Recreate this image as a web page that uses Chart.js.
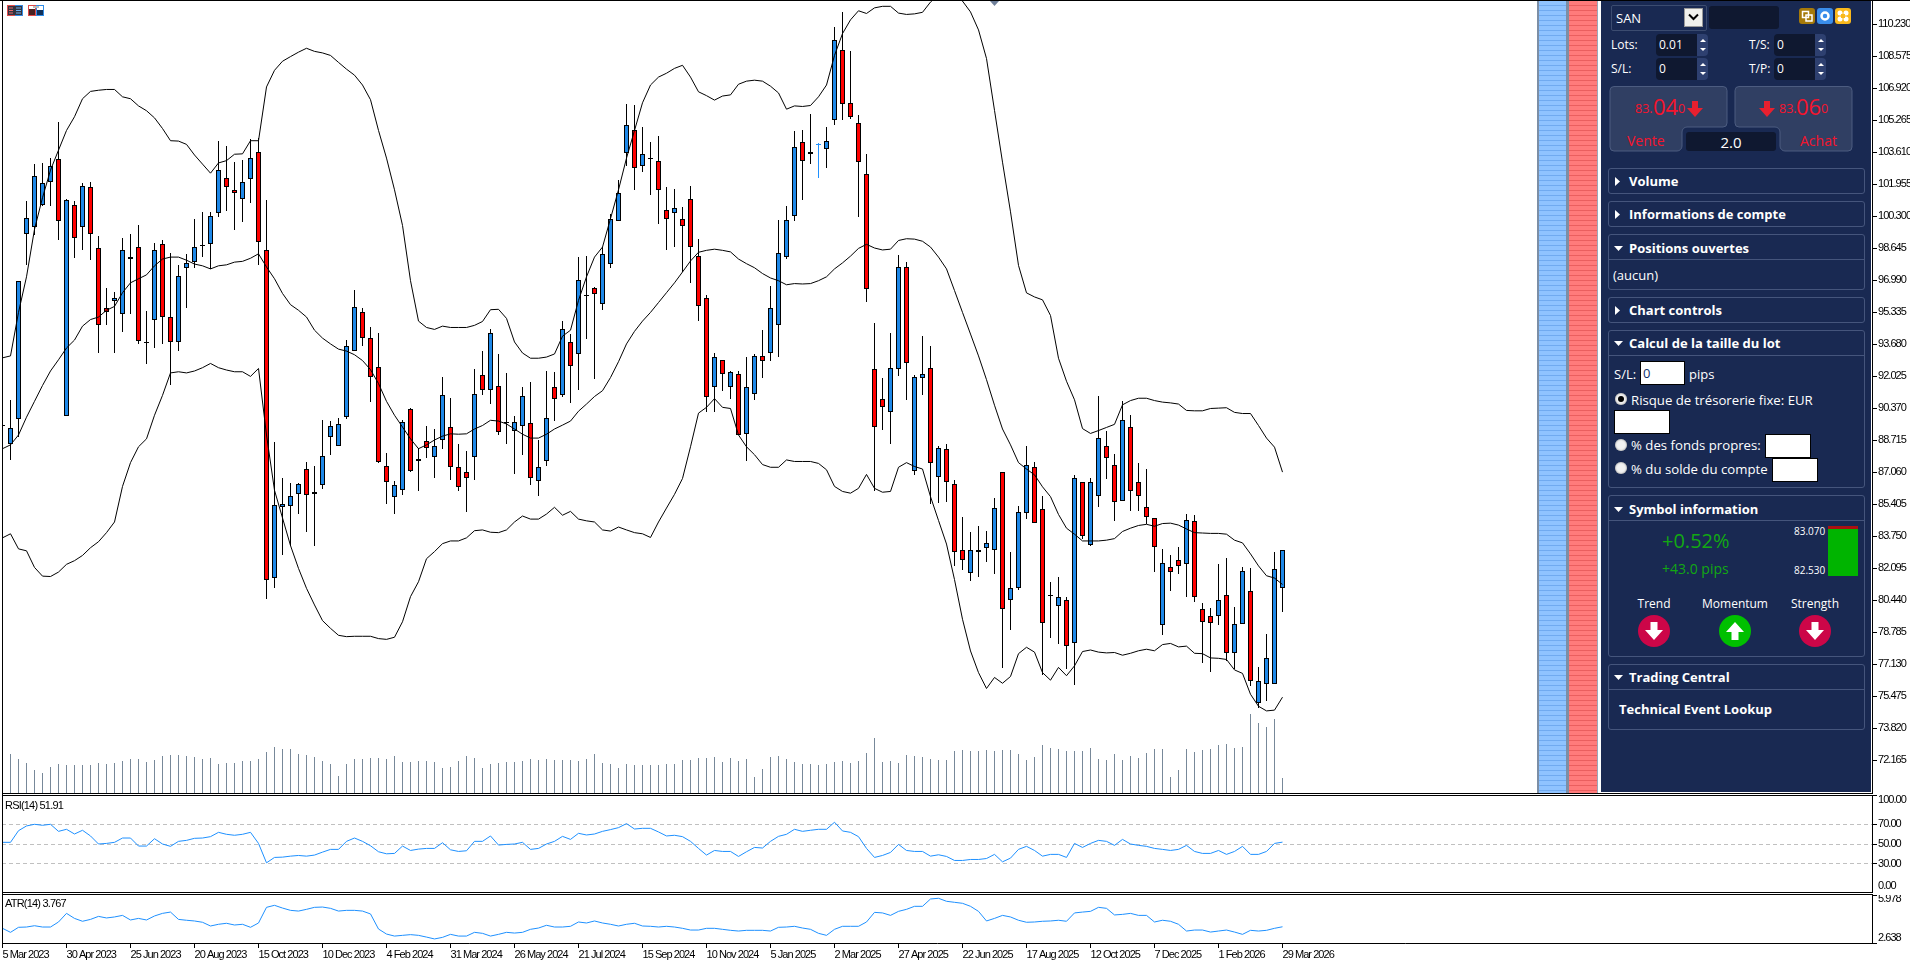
<!DOCTYPE html>
<html lang="fr">
<head>
<meta charset="UTF-8">
<title>SAN Weekly</title>
<script src="https://cdn.jsdelivr.net/npm/chart.js"></script>
<style>
html,body{margin:0;padding:0;background:#fff;overflow:hidden;width:1910px;height:960px}
canvas{position:absolute;left:0;display:block}
.ln{position:absolute;background:#000}
.strip{position:absolute;top:1px;height:792px}
#panel{position:absolute;left:1601px;top:1px;width:270px;height:791px;background:#192952}
.a{position:absolute;font-family:"Open Sans",sans-serif;color:#fff}
.t{position:absolute;font-family:"Open Sans",sans-serif;color:#fff;white-space:nowrap;line-height:1;transform:translateY(-50%);font-size:13px}
.h{font-weight:700;font-size:13px}
.sec{position:absolute;left:1608px;width:255px;border:1px solid #45557c;border-radius:3px;box-sizing:content-box}
.sep{position:absolute;left:1609px;width:255px;height:1px;background:#45557c}
.rt,.dn{position:absolute;background:#fff}
.rt{width:5px;height:9px;left:1615px;clip-path:polygon(0 0,100% 50%,0 100%)}
.dn{width:9px;height:5px;left:1614px;clip-path:polygon(0 0,100% 0,50% 100%)}
.inp{position:absolute;background:#0f1830;border-radius:4px 0 0 4px;height:22px;width:41px}
.spin{position:absolute;width:11px;height:22px;background:#2e4070;border-radius:0 4px 4px 0}
.spin:before,.spin:after{content:"";position:absolute;left:3px;width:6px;height:3px;background:#fff}
.spin:before{top:5px;clip-path:polygon(50% 0,100% 100%,0 100%)}
.spin:after{bottom:5px;clip-path:polygon(0 0,100% 0,50% 100%)}
.box{position:absolute;background:#fff;border:1px solid #000;box-sizing:border-box}
.radio{position:absolute;width:12px;height:12px;border-radius:50%;background:#f2f2f2;box-shadow:inset 0 0 2px #777}
.red{color:#f5142d}
.cap{position:absolute;left:5px;font:11px 'Liberation Sans',sans-serif;letter-spacing:-.8px;color:#000}
</style>
</head>
<body>
<canvas id="mainChart" width="1910" height="793" style="top:0"></canvas>
<canvas id="rsiChart" width="1910" height="98" style="top:795px"></canvas>
<canvas id="atrChart" width="1910" height="65" style="top:895px"></canvas>

<!-- window frame -->
<div class="ln" style="left:0;top:0;width:1910px;height:1px"></div>
<div class="ln" style="left:2px;top:0;width:1px;height:944px"></div>
<div class="ln" style="left:2px;top:793px;width:1871px;height:1px"></div>
<div class="ln" style="left:2px;top:795px;width:1871px;height:1px"></div>
<div class="ln" style="left:2px;top:892px;width:1871px;height:1px"></div>
<div class="ln" style="left:2px;top:894px;width:1871px;height:1px"></div>

<!-- chart toolbar icons -->
<svg style="position:absolute;left:7px;top:5px" width="16" height="11"><rect x=".5" y=".5" width="15" height="10" fill="#33333f" stroke="#e04a4a"/><path d="M8 .5h7.500v10H8" fill="none" stroke="#2f8de8"/><path d="M2 3h4M2 5.500h4M2 8h4" stroke="#e86a6a"/><path d="M9 3h5M9 5.500h5M9 8h5" stroke="#6fb0f0"/></svg>
<svg style="position:absolute;left:28px;top:5px" width="16" height="11"><rect x=".5" y=".5" width="7" height="10" fill="#fff" stroke="#e04a4a"/><rect x="8.500" y=".5" width="7" height="10" fill="#fff" stroke="#2f8de8"/><rect x="1" y="4" width="6" height="6" fill="#4a2020"/><rect x="9" y="5" width="6" height="5" fill="#10305a"/><rect x="5" y="1" width="6" height="2" fill="#bbb"/></svg>
<div style="position:absolute;left:990px;top:1px;width:9px;height:5px;background:#6f7f99;clip-path:polygon(0 0,100% 0,50% 100%)"></div>

<!-- striped side bars -->
<div class="strip" style="left:1537px;width:2px;background:#7c8ea5"></div>
<div class="strip" style="left:1539px;width:27px;background:repeating-linear-gradient(#8fc3ff 0 4px,#70aaf0 4px 5px)"></div>
<div class="strip" style="left:1566px;width:3px;background:#7c8ea5"></div>
<div class="strip" style="left:1569px;width:28px;background:repeating-linear-gradient(#ff7b7b 0 4px,#ea5f5f 4px 5px)"></div>
<div class="strip" style="left:1597px;width:1px;background:#9aa8bb"></div>

<!-- trade panel -->
<div id="panel"></div>
<div class="a" style="left:1611px;top:5px;width:94px;height:24px;border:1px solid #3c4c70;border-radius:2px"></div>
<div class="t" style="left:1616px;top:18px;font-size:13px">SAN</div>
<div class="a" style="left:1684px;top:8px;width:19px;height:19px;background:#f0f0ec;border:1px solid #999;box-sizing:border-box"></div>
<svg style="position:absolute;left:1688px;top:13px" width="11" height="8"><path d="M1 1.500l4.500 4.500 4.500-4.500" fill="none" stroke="#000" stroke-width="2"/></svg>
<div class="a" style="left:1709px;top:6px;width:70px;height:23px;background:#0f1830;border-radius:3px"></div>
<svg style="position:absolute;left:1799px;top:8px" width="52" height="16">
  <rect width="16" height="16" rx="3" fill="#a67a0a"/><rect x="18" width="16" height="16" rx="3" fill="#3a8dea"/><rect x="36" width="16" height="16" rx="3" fill="#fab91c"/>
  <rect x="3.500" y="3.500" width="6" height="6" fill="none" stroke="#fff" stroke-width="1.500"/><rect x="7" y="7" width="6" height="6" fill="none" stroke="#fff" stroke-width="1.500"/>
  <circle cx="26" cy="8" r="3.500" fill="none" stroke="#fff" stroke-width="2.500"/>
  <circle cx="41" cy="5" r="2.500" fill="#fff"/><circle cx="47" cy="5" r="2.500" fill="#fff"/><circle cx="41" cy="11" r="2.500" fill="#fff"/><circle cx="47" cy="11" r="2.500" fill="#fff"/><rect x="42" y="6" width="4" height="4" fill="#fab91c"/>
</svg>

<div class="t" style="left:1611px;top:45px;font-size:12px">Lots:</div>
<div class="inp" style="left:1656px;top:34px"></div><div class="spin" style="left:1697px;top:34px"></div>
<div class="t" style="left:1659px;top:45px;font-size:12px">0.01</div>
<div class="t" style="left:1611px;top:69px;font-size:12px">S/L:</div>
<div class="inp" style="left:1656px;top:58px"></div><div class="spin" style="left:1697px;top:58px"></div>
<div class="t" style="left:1659px;top:69px;font-size:12px">0</div>
<div class="t" style="left:1749px;top:45px;font-size:12px">T/S:</div>
<div class="inp" style="left:1774px;top:34px"></div><div class="spin" style="left:1815px;top:34px"></div>
<div class="t" style="left:1777px;top:45px;font-size:12px">0</div>
<div class="t" style="left:1749px;top:69px;font-size:12px">T/P:</div>
<div class="inp" style="left:1774px;top:58px"></div><div class="spin" style="left:1815px;top:58px"></div>
<div class="t" style="left:1777px;top:69px;font-size:12px">0</div>

<!-- sell and buy buttons -->
<svg style="position:absolute;left:1609px;top:86px" width="244" height="66">
  <path d="M5 .5H114a4 4 0 0 1 4 4V37a4 4 0 0 1-4 4H78a5 5 0 0 0-5 5V60a5 5 0 0 1-5 5H5a4 4 0 0 1-4-4V4.500a4 4 0 0 1 4-4z" fill="#303f63" stroke="#4c5c80"/>
  <path d="M130 .5H239a4 4 0 0 1 4 4V61a4 4 0 0 1-4 4H176a5 5 0 0 1-5-5V46a5 5 0 0 0-5-5H130a4 4 0 0 1-4-4V4.500a4 4 0 0 1 4-4z" fill="#303f63" stroke="#4c5c80"/>
</svg>
<div class="a" style="left:1686px;top:132px;width:90px;height:19px;background:#0f1830;border-radius:3px"></div>
<div class="t" style="left:1686px;width:90px;text-align:center;top:142px;font-size:15px">2.0</div>
<div class="t red" style="left:1635px;top:109px;font-size:12.500px">83.</div>
<div class="t red" style="left:1653px;top:105.500px;font-size:22px">04</div>
<div class="t red" style="left:1678px;top:109px;font-size:12.500px">0</div>
<div class="t red" style="left:1779px;top:109px;font-size:12.500px">83.</div>
<div class="t red" style="left:1796px;top:105.500px;font-size:22px">06</div>
<div class="t red" style="left:1821px;top:109px;font-size:12.500px">0</div>
<svg style="position:absolute;left:1687px;top:101px" width="16" height="16"><path d="M5 0h6v7h5l-8 9-8-9h5z" fill="#e8202f"/></svg>
<svg style="position:absolute;left:1759px;top:101px" width="16" height="16"><path d="M5 0h6v7h5l-8 9-8-9h5z" fill="#e8202f"/></svg>
<div class="t red" style="left:1627px;top:141px;font-size:14px">Vente</div>
<div class="t red" style="left:1800px;top:141px;font-size:14px">Achat</div>

<!-- collapsible sections -->
<div class="sec" style="top:168px;height:24px"></div><div class="rt" style="top:177px"></div>
<div class="t h" style="left:1629px;top:181px">Volume</div>
<div class="sec" style="top:201px;height:24px"></div><div class="rt" style="top:210px"></div>
<div class="t h" style="left:1629px;top:214px">Informations de compte</div>
<div class="sec" style="top:234px;height:54px"></div><div class="sep" style="top:259px"></div><div class="dn" style="top:246px"></div>
<div class="t h" style="left:1629px;top:248px">Positions ouvertes</div>
<div class="t" style="left:1613px;top:275px">(aucun)</div>
<div class="sec" style="top:297px;height:24px"></div><div class="rt" style="top:306px"></div>
<div class="t h" style="left:1629px;top:310px">Chart controls</div>

<div class="sec" style="top:330px;height:156px"></div><div class="sep" style="top:355px"></div><div class="dn" style="top:341px"></div>
<div class="t h" style="left:1629px;top:343px">Calcul de la taille du lot</div>
<div class="t" style="left:1614px;top:374px">S/L:</div>
<div class="box" style="left:1640px;top:361px;width:45px;height:24px"></div>
<div class="t" style="left:1643px;top:373px;color:#10306a">0</div>
<div class="t" style="left:1689px;top:374px">pips</div>
<div class="radio" style="left:1615px;top:393px"></div>
<div class="a" style="left:1618px;top:396px;width:6px;height:6px;border-radius:50%;background:#000"></div>
<div class="t" style="left:1631px;top:401px;font-size:13.200px">Risque de trésorerie fixe: EUR</div>
<div class="box" style="left:1614px;top:410px;width:56px;height:24px"></div>
<div class="radio" style="left:1615px;top:439px"></div>
<div class="t" style="left:1631px;top:446px;font-size:13.200px">% des fonds propres:</div>
<div class="box" style="left:1765px;top:434px;width:46px;height:24px"></div>
<div class="radio" style="left:1615px;top:462px"></div>
<div class="t" style="left:1631px;top:470px;font-size:13.200px">% du solde du compte</div>
<div class="box" style="left:1772px;top:458px;width:46px;height:24px"></div>

<div class="sec" style="top:495px;height:160px"></div><div class="sep" style="top:520px"></div><div class="dn" style="top:507px"></div>
<div class="t h" style="left:1629px;top:509px">Symbol information</div>
<div class="t" style="left:1662px;top:541px;font-size:20px;color:#12a812">+0.52%</div>
<div class="t" style="left:1662px;top:569px;font-size:14px;color:#12a812">+43.0 pips</div>
<div class="t" style="left:1794px;top:531px;font-size:10px">83.070</div>
<div class="t" style="left:1794px;top:570px;font-size:10px">82.530</div>
<div class="a" style="left:1828px;top:526px;width:30px;height:3px;background:#aa1111"></div>
<div class="a" style="left:1828px;top:529px;width:30px;height:47px;background:#00b400"></div>
<div class="t" style="left:1634px;width:40px;text-align:center;top:604px;font-size:12px">Trend</div>
<div class="t" style="left:1695px;width:80px;text-align:center;top:604px;font-size:12px">Momentum</div>
<div class="t" style="left:1785px;width:60px;text-align:center;top:604px;font-size:12px">Strength</div>
<svg style="position:absolute;left:1638px;top:615px" width="32" height="32"><circle cx="16" cy="16" r="16" fill="#cc0648"/><path d="M12.500 7h7v8h5.500l-9 10-9-10h5.500z" fill="#fff"/></svg>
<svg style="position:absolute;left:1719px;top:615px" width="32" height="32"><circle cx="16" cy="16" r="16" fill="#00c000"/><path d="M12.500 25h7v-8h5.500l-9-10-9 10h5.500z" fill="#fff"/></svg>
<svg style="position:absolute;left:1799px;top:615px" width="32" height="32"><circle cx="16" cy="16" r="16" fill="#cc0648"/><path d="M12.500 7h7v8h5.500l-9 10-9-10h5.500z" fill="#fff"/></svg>

<div class="sec" style="top:664px;height:64px"></div><div class="sep" style="top:689px"></div><div class="dn" style="top:675px"></div>
<div class="t h" style="left:1629px;top:677px">Trading Central</div>
<div class="t h" style="left:1619px;top:709px">Technical Event Lookup</div>

<!-- indicator captions -->
<div class="cap" style="top:799px">RSI(14) 51.91</div>
<div class="cap" style="top:897px">ATR(14) 3.767</div>

<script>
// weekly bars, 5 Mar 2023 to 29 Mar 2026
const opens = [
  89.48,88.55,89.82,99.37,99.74,100.92,102.11,103.26,89.96,100.88,
  99.78,101.80,98.65,95.55,95.95,95.28,98.20,98.70,93.80,94.97,
  98.90,95.08,93.79,97.65,97.96,98.81,98.90,100.50,102.31,101.68,
  101.23,102.25,103.66,98.59,81.58,85.26,85.34,85.97,87.26,85.93,
  86.39,88.88,88.41,89.94,93.34,95.34,94.03,92.50,87.41,85.79,
  86.14,90.33,87.75,88.67,87.84,88.73,89.39,87.33,87.06,87.84,
  92.09,91.35,91.52,89.62,89.19,89.49,89.60,86.61,87.67,91.46,
  91.05,93.79,93.21,96.23,96.59,95.79,97.86,100.09,103.56,104.75,
  102.89,103.27,103.15,100.62,100.50,100.15,101.23,98.25,96.06,91.46,
  92.87,91.46,92.13,89.06,91.11,93.07,93.25,94.67,98.18,100.35,
  104.13,103.52,104.01,103.77,105.28,108.90,106.16,105.12,102.52,92.40,
  90.84,90.21,92.40,97.71,87.16,91.97,92.44,86.81,88.25,86.49,
  83.03,81.88,82.93,83.13,83.03,87.06,80.48,81.11,84.98,87.37,
  85.16,80.67,80.17,80.44,78.23,86.55,83.32,85.84,88.41,87.47,
  85.57,89.39,86.55,85.26,84.73,79.15,82.15,82.56,82.32,84.53,
  79.99,79.62,79.66,80.70,77.72,79.25,80.91,75.12,76.10,76.14,81.07
];
const highs = [
  89.48,90.80,96.94,101.11,103.01,103.07,103.32,105.18,101.19,101.09,
  102.03,102.07,99.27,96.61,96.40,99.19,99.39,99.84,95.40,98.92,
  99.08,98.39,97.80,98.35,100.17,100.54,100.54,104.20,103.95,103.11,
  103.21,104.30,104.34,101.15,88.63,86.77,86.51,86.51,87.61,87.39,
  89.78,89.72,89.88,93.91,96.51,95.55,94.59,94.28,88.06,86.63,
  89.80,90.37,88.35,89.47,89.31,92.01,90.90,88.53,88.16,92.42,
  93.34,94.48,93.19,92.21,89.98,91.48,91.74,88.73,92.33,92.25,
  94.89,94.20,98.20,98.27,96.63,98.72,100.43,102.17,106.10,106.06,
  104.93,104.13,104.46,101.80,101.72,100.79,101.88,99.15,96.24,93.24,
  92.87,92.33,92.33,93.03,93.19,94.42,96.71,100.11,100.84,104.73,
  104.77,105.61,104.09,104.93,110.11,110.88,108.86,105.55,103.54,94.79,
  91.95,94.28,98.31,97.94,92.09,94.11,93.60,88.41,88.53,86.69,
  84.75,83.99,84.30,84.03,85.73,87.06,82.95,85.31,88.43,87.59,
  85.84,81.40,81.67,80.60,86.94,86.55,86.78,91.01,89.21,88.02,
  90.76,90.03,87.55,87.25,84.73,83.10,82.79,83.20,84.90,84.85,
  80.29,80.03,82.32,82.65,80.11,82.15,82.11,77.00,78.70,82.95,83.04
];
const lows = [
  89.46,87.73,88.90,97.80,99.33,100.86,100.86,99.06,89.96,98.16,
  98.57,98.06,93.25,94.67,93.25,94.34,95.28,93.70,92.68,93.50,
  93.70,91.58,93.32,95.59,97.63,98.20,97.59,100.27,100.58,99.58,
  100.02,100.99,97.80,80.54,81.11,82.80,83.28,84.89,83.99,83.24,
  86.22,87.94,88.41,89.82,93.34,93.60,90.70,87.53,85.45,84.89,
  85.89,87.08,86.12,87.82,86.75,88.27,86.69,86.08,85.03,86.69,
  91.05,90.58,89.00,88.51,87.00,87.98,86.40,85.87,87.41,89.72,
  90.99,90.68,91.33,93.97,91.91,95.48,97.63,100.05,102.91,101.68,
  102.62,101.43,99.92,98.59,98.73,97.41,96.88,94.91,90.17,90.17,
  91.25,90.88,89.00,87.63,90.82,91.95,92.85,93.01,98.12,100.05,
  101.15,103.01,102.30,102.81,105.03,105.28,105.36,100.27,95.87,86.08,
  89.27,88.51,92.03,90.80,86.94,91.05,85.42,85.50,85.52,82.25,
  82.03,81.47,81.68,82.44,81.80,76.96,78.92,80.97,84.63,84.43,
  76.61,78.51,78.21,76.92,76.08,83.63,83.24,85.30,86.72,84.53,
  85.57,85.06,85.06,84.38,81.93,78.68,80.91,81.83,80.64,80.38,
  77.23,76.76,79.17,77.29,76.92,79.25,76.04,74.88,75.26,76.10,79.82
];
const closes = [
  89.46,89.35,96.94,100.21,102.42,102.01,102.89,100.05,101.13,99.17,
  101.90,99.37,94.67,95.38,96.06,98.59,98.12,93.85,93.78,98.55,
  95.12,93.79,97.20,97.92,98.70,98.79,100.31,102.68,101.84,101.54,
  102.07,103.30,98.96,81.48,85.40,85.44,85.83,86.45,85.89,86.04,
  87.90,89.49,89.55,93.62,95.61,94.01,91.99,87.59,86.55,86.39,
  89.66,87.16,87.67,88.31,88.41,91.05,87.33,86.30,86.75,91.11,
  91.31,94.26,89.13,89.60,89.66,91.01,86.79,87.37,89.86,90.88,
  94.50,92.58,97.00,96.21,96.30,98.35,100.15,101.54,105.01,102.79,
  103.52,103.25,101.68,100.15,100.72,99.82,98.70,95.65,90.95,93.01,
  92.13,92.25,89.02,91.46,93.07,92.85,95.55,98.39,100.11,103.87,
  103.19,103.62,104.01,104.18,109.41,106.14,105.47,103.13,96.53,89.41,
  90.47,92.44,97.71,92.74,91.99,92.13,87.53,88.31,86.55,82.97,
  82.56,83.03,83.03,83.40,85.20,80.02,81.11,85.00,87.47,84.47,
  79.29,80.65,80.60,78.07,86.76,83.75,86.59,88.82,87.80,85.51,
  89.76,86.08,85.86,84.77,83.22,82.40,81.89,82.20,84.59,80.64,
  79.35,79.27,80.44,77.74,79.25,81.99,76.27,76.27,77.49,82.09,83.04
];
const volumes = [
  0,3930,3430,3030,2270,2030,2630,2930,2770,2830,
  2830,2770,3030,2930,3030,3230,3430,3430,3130,3330,
  3730,3830,3830,3730,3630,3430,3530,2930,3030,3030,
  3230,3230,3430,4130,4630,4430,4430,3930,3830,3630,
  3230,2930,1730,2930,3430,3430,3530,3530,3430,3730,
  3130,3130,3230,3230,3130,2530,2630,3230,3730,3530,
  2530,2930,3030,3130,3130,3230,3430,3330,3430,3330,
  3330,3330,3230,3430,3930,3030,2930,2530,2930,2830,
  2770,2770,2830,2930,2930,3330,3330,3530,3530,3630,
  3130,3530,3230,3430,1630,2430,3630,3730,3430,3130,
  2930,2930,2830,2930,3130,3230,3030,3230,4030,5530,
  3130,3230,3030,3830,3730,3630,3430,3330,3330,4230,
  4330,4230,4230,4330,4230,4330,4330,3930,3330,3630,
  4830,4530,4430,4230,4230,4230,4530,3430,3330,3930,
  3330,3730,3530,4030,4430,4430,1630,2330,4430,4130,
  4330,4430,4830,4930,4530,4630,7930,7030,6630,7430,1530
];

// Bollinger bands
const bandUpper = [
  92.99,93.09,95.34,97.18,99.64,101.27,102.70,103.73,104.75,105.46,
  106.39,106.77,106.83,106.87,106.87,106.49,106.39,106.02,105.77,105.40,
  104.85,104.22,104.20,104.03,103.48,103.01,102.54,103.07,103.19,103.52,
  103.54,104.22,104.22,107.00,107.86,108.33,108.57,108.80,109.00,108.84,
  108.76,108.63,108.27,107.92,107.61,107.10,106.34,104.75,103.32,101.68,
  99.84,96.98,94.89,94.56,94.46,94.63,94.56,94.56,94.56,94.67,
  94.87,95.48,95.50,95.03,93.81,93.24,92.97,92.97,93.03,93.19,
  94.11,94.42,95.96,97.18,98.20,98.72,100.19,101.68,103.32,104.75,
  106.18,107.10,107.51,107.71,107.96,108.12,107.51,106.75,106.55,106.32,
  106.53,106.59,107.14,107.30,107.35,107.30,107.04,106.69,105.85,106.02,
  105.99,106.04,106.49,107.10,108.63,109.76,110.47,110.94,110.80,111.09,
  111.17,111.17,110.82,110.75,110.78,110.86,111.39,111.76,111.96,111.81,
  111.44,110.88,109.95,108.47,105.79,103.11,100.54,97.77,96.35,96.14,
  95.99,95.18,92.97,91.78,90.82,89.33,89.08,89.23,89.39,89.55,
  90.56,90.78,90.90,90.90,90.78,90.70,90.66,90.60,90.27,90.25,
  90.25,90.37,90.39,90.41,90.17,90.11,90.11,89.49,88.84,88.37,87.08
];
const bandMiddle = [
  88.29,88.49,89.00,89.92,90.74,91.56,92.31,92.89,93.50,93.91,
  94.63,94.97,95.10,95.45,95.65,96.36,96.87,97.08,97.28,97.75,
  98.10,98.20,98.20,98.04,97.84,97.75,97.59,97.75,97.80,97.94,
  97.98,98.14,98.37,97.69,97.08,96.32,95.74,95.45,95.10,94.42,
  94.01,93.71,93.44,93.34,93.15,92.85,92.38,91.66,90.74,90.02,
  89.41,88.80,88.29,88.49,88.74,88.94,89.06,89.04,89.06,89.31,
  89.49,89.76,89.72,89.57,89.31,89.04,88.84,88.84,89.04,89.31,
  89.51,89.72,90.23,90.60,90.99,91.29,91.97,92.79,93.71,94.36,
  94.89,95.34,95.85,96.36,96.87,97.43,98.00,98.45,98.55,98.61,
  98.55,98.47,98.10,97.86,97.65,97.35,97.12,96.98,96.77,96.83,
  96.81,96.83,96.98,97.18,97.59,97.90,98.25,98.65,98.86,98.67,
  98.57,98.61,99.06,99.15,99.13,99.02,98.72,98.20,97.59,96.47,
  95.34,94.22,93.09,91.86,90.54,89.31,88.49,87.57,87.24,86.94,
  86.32,85.81,84.89,84.18,83.87,83.52,83.52,83.52,83.56,83.64,
  84.01,84.18,84.32,84.38,84.28,84.42,84.44,84.34,84.14,83.95,
  83.93,83.91,83.91,83.87,83.56,83.42,82.85,82.23,81.72,81.60,81.27
];
const bandLower = [
  83.68,83.89,83.11,83.01,82.15,81.70,81.68,81.91,82.31,82.50,
  82.77,83.17,83.48,83.95,84.50,86.34,87.57,88.39,88.80,90.02,
  91.05,92.21,92.27,92.21,92.31,92.48,92.70,92.48,92.36,92.27,
  92.27,92.03,92.44,89.00,86.14,84.71,83.28,82.10,81.07,80.21,
  79.40,79.00,78.64,78.57,78.59,78.59,78.59,78.47,78.43,78.54,
  79.34,80.64,81.41,82.60,82.97,83.38,83.52,83.52,83.68,84.05,
  84.09,83.97,83.95,84.09,84.50,84.81,84.65,84.65,84.91,85.26,
  84.85,85.05,84.65,84.56,84.50,84.09,84.03,84.24,84.09,83.95,
  83.89,83.70,84.50,85.22,85.93,86.75,88.39,90.13,90.43,90.88,
  90.43,90.37,89.00,88.39,87.98,87.47,87.33,87.33,87.71,87.63,
  87.63,87.63,87.53,87.20,86.34,86.08,85.99,86.24,86.96,86.24,
  86.04,86.08,87.33,87.57,87.37,87.24,85.81,84.58,83.36,81.52,
  79.47,77.83,76.71,75.89,76.46,76.16,76.51,77.69,78.02,77.77,
  76.71,76.32,76.98,76.55,77.06,77.80,77.88,77.77,77.73,77.75,
  77.61,77.71,77.84,77.92,77.84,78.16,78.22,78.04,78.08,77.71,
  77.69,77.47,77.45,77.39,76.85,76.67,75.59,74.97,74.73,74.77,75.44
];

const rsiValues = [
  51.7,51.7,63.6,68.4,70.1,69.1,70.1,62.9,65.0,60.2,
  64.0,58.2,50.0,50.6,51.7,56.1,56.1,47.9,47.9,55.4,
  50.0,47.6,52.7,53.7,55.8,56.1,57.5,61.9,59.9,58.9,
  59.9,61.9,50.6,30.8,36.3,36.6,37.6,38.3,37.6,38.7,
  41.7,44.5,44.5,52.7,56.1,52.7,48.2,42.1,40.0,40.4,
  47.9,43.4,44.8,45.5,45.5,51.3,44.1,42.4,43.1,52.7,
  52.7,58.2,48.9,49.6,50.0,51.7,44.5,45.5,50.0,52.7,
  57.8,54.7,60.9,59.2,60.2,62.9,64.7,66.7,70.8,65.3,
  66.0,66.0,62.3,58.2,58.9,57.5,52.7,45.5,38.7,43.4,
  42.4,42.4,37.3,42.1,46.5,45.9,52.7,57.8,59.9,65.0,
  62.9,64.0,65.0,65.0,72.2,63.3,61.9,57.5,45.5,36.3,
  38.3,41.4,49.6,43.4,42.4,42.4,37.6,39.0,37.3,33.2,
  33.2,34.2,34.2,35.2,39.4,31.8,35.6,44.5,47.6,43.4,
  37.6,39.4,39.4,36.3,50.6,46.5,50.6,53.7,52.7,48.6,
  54.7,50.0,48.6,47.6,45.5,44.5,43.4,44.5,48.6,42.4,
  40.4,40.4,43.4,39.4,42.4,47.6,39.4,39.4,42.4,50.6,51.91
];
const atrValues = [
  3.66,3.38,3.73,3.75,3.84,3.75,3.75,4.10,4.70,4.35,
  4.15,4.28,4.49,4.38,4.45,4.56,4.24,4.35,4.24,4.52,
  4.70,4.79,4.28,4.22,4.17,4.08,3.82,3.94,4.01,3.89,
  3.94,3.73,4.03,5.12,5.26,5.07,4.91,4.86,4.98,5.12,
  5.14,5.05,4.86,4.91,4.91,4.86,4.66,3.61,3.26,3.12,
  3.17,3.22,3.17,3.05,2.92,3.03,3.24,3.12,3.12,3.38,
  3.31,3.12,3.24,3.38,3.33,3.38,3.59,3.68,3.87,3.75,
  3.75,3.80,4.10,4.03,4.17,4.03,3.94,3.82,3.94,4.01,
  3.82,3.80,3.75,3.80,3.75,3.66,3.54,3.54,3.66,3.66,
  3.59,3.52,3.47,3.52,3.52,3.52,3.47,3.73,3.75,3.80,
  3.68,3.59,3.31,3.17,3.59,3.80,3.80,3.80,4.10,4.77,
  4.73,4.56,4.84,4.98,5.19,5.19,5.70,5.75,5.54,5.47,
  5.40,5.19,4.84,4.17,4.35,4.56,4.45,4.22,4.08,4.10,
  4.15,4.17,4.22,4.15,4.73,4.79,4.84,5.12,5.05,4.59,
  4.63,4.70,4.56,4.56,4.10,4.22,4.15,3.94,3.47,3.54,
  3.54,3.40,3.47,3.54,3.40,3.24,3.52,3.47,3.52,3.66,3.767
];

const dateLabels = ['5 Mar 2023','30 Apr 2023','25 Jun 2023','20 Aug 2023','15 Oct 2023','10 Dec 2023','4 Feb 2024','31 Mar 2024','26 May 2024','21 Jul 2024','15 Sep 2024','10 Nov 2024','5 Jan 2025','2 Mar 2025','27 Apr 2025','22 Jun 2025','17 Aug 2025','12 Oct 2025','7 Dec 2025','1 Feb 2026','29 Mar 2026'];
const priceTicks = [110.230,108.575,106.920,105.265,103.610,101.955,100.300,98.645,96.990,95.335,93.680,92.025,90.370,88.715,87.060,85.405,83.750,82.095,80.440,78.785,77.130,75.475,73.820,72.165];
const rsiTicks = [100,70,50,30,0];
const atrTicks = [5.978,2.638];

const PRICE_MAX = 111.497, PRICE_MIN = 70.484;
const BARS_PER_LABEL = 8;
const axisFont = {family: "'Liberation Sans',sans-serif", size: 11};
const BLUE = '#1E88E8', RED = '#FF0000', LINE_BLUE = '#1E90FF';

Chart.defaults.animation = false;
Chart.defaults.font.family = axisFont.family;
Chart.defaults.color = '#000';

const series = arr => arr.map((y, x) => ({x, y}));
const flat = i => opens[i] === closes[i];

// round y pixels so bar edges stay crisp
function snapPixels(scale) {
    if (scale.snapped) return;
    const px = scale.getPixelForValue.bind(scale);
    scale.getPixelForValue = v => Math.round(px(v));
    scale.snapped = true;
}

// panes butt against each other, so no room is kept for half a label
function noPadding(scale) {
    scale.paddingLeft = scale.paddingRight = scale.paddingTop = scale.paddingBottom = 0;
}

function timeAxis(showLabels) {
    return {
        type: 'linear',
        min: -0.0625,
        max: 233.6875,
        offset: false,
        display: showLabels,
        afterBuildTicks: s => { s.ticks = dateLabels.map((_, k) => ({value: k * BARS_PER_LABEL})); },
        afterFit: s => { if (showLabels) s.height = 17; noPadding(s); },
        grid: {offset: false, drawOnChartArea: false, tickLength: 5, tickColor: '#000'},
        border: {color: '#000'},
        ticks: {
            autoSkip: false, maxRotation: 0, minRotation: 0, align: 'start', padding: 0,
            font: axisFont, color: '#000',
            callback: v => dateLabels[v / BARS_PER_LABEL]
        }
    };
}

function valueAxis(tickList, format, extra) {
    return Object.assign({
        position: 'right',
        afterBuildTicks: s => { s.ticks = tickList.map(v => ({value: v})); },
        afterFit: s => { s.width = 38; noPadding(s); },
        grid: {drawOnChartArea: false, tickLength: 5, tickColor: '#000'},
        border: {color: '#000'},
        ticks: {autoSkip: false, padding: 1, font: axisFont, color: '#000', callback: format}
    }, extra);
}

// Liberation Sans set tight, the scale labels are narrow
const tightText = {
    id: 'tightText',
    beforeDraw(chart) { chart.ctx.letterSpacing = '-0.95px'; }
};

// the top and bottom scale labels sit inside the pane rather than on their ticks
const edgeLabels = {
    id: 'edgeLabels',
    afterDraw(chart, args, opts) {
        const s = chart.scales.y, ctx = chart.ctx;
        ctx.save();
        ctx.font = axisFont.size + 'px ' + axisFont.family;
        ctx.fillStyle = '#000';
        ctx.textBaseline = 'middle';
        ctx.fillText(opts.top, s.right - 32, s.top + opts.topOffset);
        ctx.fillText(opts.bottom, s.right - 32, s.bottom - opts.bottomOffset);
        ctx.restore();
    }
};

const basePlugins = {legend: {display: false}, tooltip: {enabled: false}};

new Chart(document.getElementById('mainChart'), {
    type: 'bar',
    data: {
        datasets: [
            {type: 'line', label: 'BB upper', data: series(bandUpper), yAxisID: 'bands', borderColor: '#000', borderWidth: 1, pointRadius: 0, tension: 0, order: 0},
            {type: 'line', label: 'BB middle', data: series(bandMiddle), yAxisID: 'bands', borderColor: '#000', borderWidth: 1, pointRadius: 0, tension: 0, order: 0},
            {type: 'line', label: 'BB lower', data: series(bandLower), yAxisID: 'bands', borderColor: '#000', borderWidth: 1, pointRadius: 0, tension: 0, order: 0},
            {
                label: 'Body',
                data: opens.map((o, i) => ({x: i, y: [o, closes[i]]})),
                yAxisID: 'y',
                grouped: false,
                barThickness: 5,
                minBarLength: 1,
                borderWidth: 1,
                borderSkipped: false,
                inflateAmount: 0,
                borderColor: c => flat(c.dataIndex) ? LINE_BLUE : '#000',
                backgroundColor: c => closes[c.dataIndex] >= opens[c.dataIndex] ? BLUE : RED,
                order: 1
            },
            {
                label: 'Wick',
                data: lows.map((l, i) => ({x: i, y: [l, highs[i]]})),
                yAxisID: 'y',
                grouped: false,
                barThickness: 1,
                borderWidth: 0,
                inflateAmount: 0,
                backgroundColor: c => flat(c.dataIndex) ? LINE_BLUE : '#000',
                order: 2
            },
            {
                label: 'Volume',
                data: series(volumes),
                yAxisID: 'vol',
                grouped: false,
                barThickness: 1,
                borderWidth: 0,
                inflateAmount: 0,
                backgroundColor: '#778899',
                order: 3
            }
        ]
    },
    plugins: [tightText],
    options: {
        responsive: false,
        layout: {autoPadding: false, padding: {left: 2}},
        plugins: basePlugins,
        scales: {
            x: timeAxis(false),
            y: valueAxis(priceTicks, v => v.toFixed(3), {min: PRICE_MIN, max: PRICE_MAX, afterUpdate: snapPixels}),
            bands: {display: false, min: PRICE_MIN, max: PRICE_MAX},
            vol: {display: false, min: 0, max: 79300, afterUpdate: snapPixels}
        }
    }
});

new Chart(document.getElementById('rsiChart'), {
    type: 'line',
    data: {datasets: [{label: 'RSI(14)', data: series(rsiValues), borderColor: LINE_BLUE, borderWidth: 1, pointRadius: 0, tension: 0}]},
    plugins: [tightText, edgeLabels],
    options: {
        responsive: false,
        layout: {autoPadding: false, padding: {left: 2}},
        plugins: Object.assign({edgeLabels: {top: '100.00', bottom: '0.00', topOffset: 5, bottomOffset: 7}}, basePlugins),
        scales: {
            x: timeAxis(false),
            y: valueAxis(rsiTicks, v => (v === 100 || v === 0) ? '' : v.toFixed(2), {
                min: 0, max: 100,
                grid: {
                    drawOnChartArea: true, tickLength: 5, tickColor: '#000',
                    color: c => (c.tick && c.tick.value > 0 && c.tick.value < 100) ? '#c0c0c0' : 'transparent'
                },
                border: {color: '#000', dash: [4, 3]}
            })
        }
    }
});

new Chart(document.getElementById('atrChart'), {
    type: 'line',
    data: {datasets: [{label: 'ATR(14)', data: series(atrValues), borderColor: LINE_BLUE, borderWidth: 1, pointRadius: 0, tension: 0}]},
    plugins: [tightText, edgeLabels],
    options: {
        responsive: false,
        layout: {autoPadding: false, padding: {left: 2}},
        plugins: Object.assign({edgeLabels: {top: '5.978', bottom: '2.638', topOffset: 4, bottomOffset: 5}}, basePlugins),
        scales: {
            x: timeAxis(true),
            y: valueAxis(atrTicks, () => '', {min: 2.638, max: 5.978})
        }
    }
});
</script>
</body>
</html>
